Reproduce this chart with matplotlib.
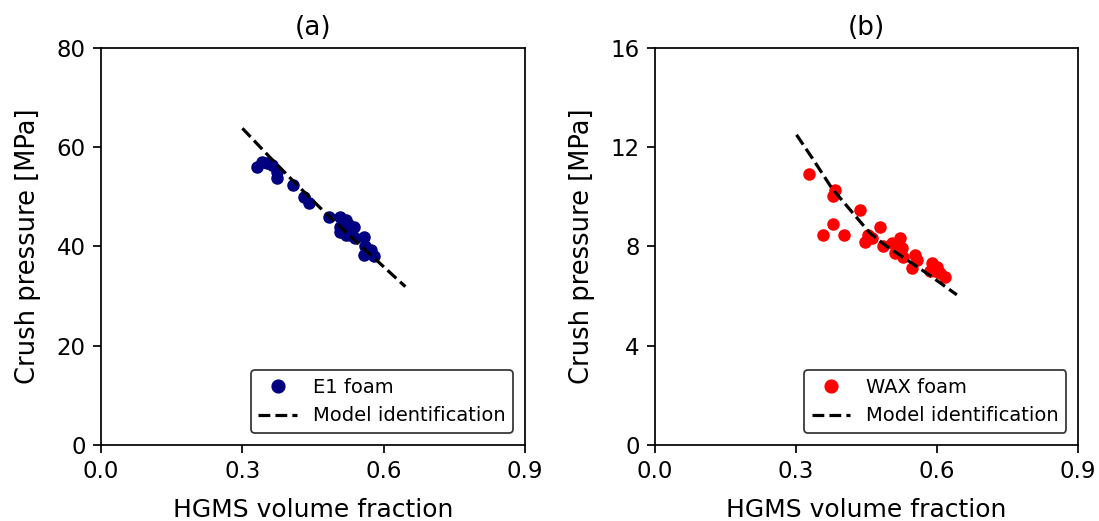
import matplotlib.pyplot as plt

# panel (a): E1 foam
e1_frac = [0.332, 0.342, 0.353, 0.363, 0.374, 0.374, 0.408, 0.431, 0.441, 0.484,
           0.508, 0.519, 0.508, 0.526, 0.537, 0.508, 0.519, 0.529, 0.540, 0.558,
           0.561, 0.558, 0.572, 0.579]
e1_press = [56.1, 57.1, 56.8, 56.5, 53.8, 55.0, 52.4, 49.9, 48.7, 46.0,
            46.0, 45.4, 44.0, 44.4, 44.0, 43.0, 42.3, 42.3, 41.7, 42.0,
            40.0, 38.3, 39.3, 38.0]
e1_model_x = [0.300, 0.360, 0.416, 0.466, 0.530, 0.600, 0.646]
e1_model_y = [63.8, 57.8, 52.4, 47.7, 42.0, 35.9, 31.9]

# panel (b): WAX foam
wax_frac = [0.328, 0.383, 0.378, 0.378, 0.358, 0.401, 0.436, 0.479, 0.452, 0.447,
            0.461, 0.486, 0.504, 0.521, 0.511, 0.528, 0.525, 0.553, 0.546, 0.557,
            0.589, 0.599, 0.596, 0.606, 0.617, 0.585]
wax_press = [10.93, 10.28, 10.04, 8.91, 8.47, 8.47, 9.45, 8.78, 8.47, 8.16,
             8.33, 8.0, 8.13, 8.33, 7.73, 7.59, 7.93, 7.66, 7.12, 7.46,
             7.33, 7.19, 6.99, 6.92, 6.76, 6.99]
wax_model_x = [0.301, 0.337, 0.376, 0.418, 0.457, 0.493, 0.536, 0.578, 0.642]
wax_model_y = [12.5, 11.49, 10.35, 9.41, 8.54, 8.0, 7.46, 6.92, 6.05]

x_ticks = [0.0, 0.3, 0.6, 0.9]

fig = plt.figure(figsize=(10.99, 5.21), dpi=100)
ax1 = fig.add_axes([0.092, 0.146, 0.3857, 0.762])
ax2 = fig.add_axes([0.596, 0.146, 0.385, 0.762])

panels = [
    (ax1, e1_frac, e1_press, e1_model_x, e1_model_y, 'navy', 'E1 foam', '(a)', 80, [0, 20, 40, 60, 80]),
    (ax2, wax_frac, wax_press, wax_model_x, wax_model_y, 'red', 'WAX foam', '(b)', 16, [0, 4, 8, 12, 16]),
]

for ax, xs, ys, mx, my, col, lab, title, ymax, yt in panels:
    ax.plot(xs, ys, 'o', color=col, markersize=8, label=lab)
    ax.plot(mx, my, '--', color='black', linewidth=2.3, label='Model identification')
    ax.set_xlim(0, 0.9)
    ax.set_ylim(0, ymax)
    ax.set_xticks(x_ticks)
    ax.set_yticks(yt)
    ax.tick_params(labelsize=16.5, length=5.6, width=1.25, pad=5.5)
    for sp in ax.spines.values():
        sp.set_linewidth(1.25)
    ax.set_xlabel('HGMS volume fraction', fontsize=18, labelpad=10.5)
    ax.set_ylabel('Crush pressure [MPa]', fontsize=18.5, labelpad=11)
    ax.set_title(title, fontsize=19, pad=9)
    leg = ax.legend(loc='lower right', fontsize=14, fancybox=True, borderaxespad=0.6,
                    markerscale=1.15)
    leg.get_frame().set_edgecolor('black')
    leg.get_frame().set_linewidth(1.25)

fig.savefig('out.png', dpi=100)
